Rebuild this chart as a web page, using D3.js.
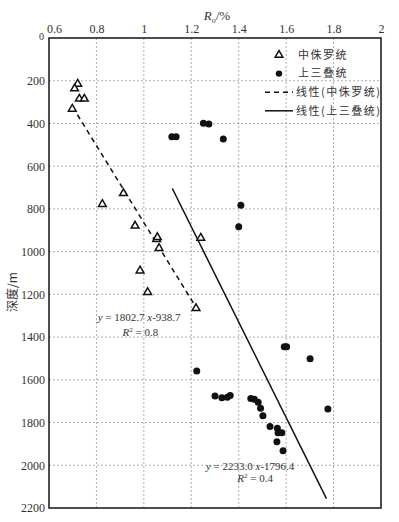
<!DOCTYPE html>
<html>
<head>
<meta charset="utf-8">
<script src="https://cdn.jsdelivr.net/npm/d3@7"></script>
<style>
  body { margin: 0; background: #fff; }
  svg { display: block; }
  text { font-family: "Liberation Serif", "DejaVu Serif", serif; fill: #333; }
  .cjk { font-family: "Noto Sans CJK SC", sans-serif; }
</style>
</head>
<body>
<div id="chart"></div>
<script>
// 中侏罗统 (triangles): Ro %, depth m
var jurRo    = [0.721, 0.708, 0.728, 0.749, 0.698, 0.914, 0.825, 0.963, 1.054, 1.057, 1.064, 0.984, 1.016, 1.220, 1.240];
var jurDepth = [215,   237,   285,   285,   332,   727,   778,   879,   942,   933,   984,   1089,  1190,  1265,  936];

// 上三叠统 (dots)
var triRo    = [1.118, 1.136, 1.251, 1.274, 1.335, 1.409, 1.400, 1.223, 1.592, 1.602, 1.701, 1.776,
                1.300, 1.329, 1.352, 1.364, 1.451, 1.466, 1.482, 1.492, 1.502, 1.532, 1.563, 1.566, 1.582, 1.561, 1.587];
var triDepth = [462,   462,   399,   403,   473,   783,   883,   1559,  1445,  1445,  1501,  1737,
                1676,  1684,  1682,  1673,  1688,  1691,  1705,  1733,  1768,  1819,  1827,  1848,  1848,  1890,  1932];

// linear fits
var jurFit = {slope: 1802.7, icpt: -938.7, from: 0.72, to: 1.23};
var triFit = {slope: 2233.0, icpt: -1796.4, from: 1.12, to: 1.77};

var xTicks = [0.6, 0.8, 1, 1.2, 1.4, 1.6, 1.8, 2];
var yTicks = [0, 200, 400, 600, 800, 1000, 1200, 1400, 1600, 1800, 2000, 2200];

var cfg = {
  width: 399, height: 522,
  margin: {top: 38, right: 18, bottom: 14, left: 49}
};
var iw = cfg.width - cfg.margin.left - cfg.margin.right,
    ih = cfg.height - cfg.margin.top - cfg.margin.bottom;

var x = d3.scaleLinear().domain([0.6, 2]).range([0, iw]);
var y = d3.scaleLinear().domain([0, 2200]).range([0, ih]);

var svg = d3.select("#chart").append("svg")
    .attr("width", cfg.width)
    .attr("height", cfg.height);

var g = svg.append("g")
    .attr("transform", "translate(" + cfg.margin.left + "," + cfg.margin.top + ")");

// grid
g.append("g").selectAll("line")
    .data(xTicks.slice(1, -1))
    .enter().append("line")
    .attr("x1", function(d) { return x(d); })
    .attr("x2", function(d) { return x(d); })
    .attr("y1", 0).attr("y2", ih)
    .attr("stroke", "#999").attr("stroke-width", 0.8)
    .attr("stroke-dasharray", "2,2");

g.append("g").selectAll("line")
    .data(yTicks.slice(1, -1))
    .enter().append("line")
    .attr("y1", function(d) { return y(d); })
    .attr("y2", function(d) { return y(d); })
    .attr("x1", 0).attr("x2", iw)
    .attr("stroke", "#999").attr("stroke-width", 0.8)
    .attr("stroke-dasharray", "2,2");

// axes
var xAxis = d3.axisTop(x)
    .tickValues(xTicks)
    .tickSize(0)
    .tickPadding(5)
    .tickFormat(function(d) { return String(d); });

var yAxis = d3.axisLeft(y)
    .tickValues(yTicks)
    .tickSize(0)
    .tickPadding(4)
    .tickFormat(function(d) { return String(d); });

var gx = g.append("g").call(xAxis);
gx.select(".domain").remove();
gx.selectAll("text").style("font-size", "12px").attr("fill", "#333");
// first label sits a little right so it clears the "0" of the depth axis
gx.selectAll(".tick").filter(function(d) { return d === 0.6; })
    .select("text").attr("dx", 5);

var gy = g.append("g").call(yAxis);
gy.select(".domain").remove();
gy.selectAll("text").style("font-size", "12px").attr("fill", "#333");
gy.selectAll(".tick").filter(function(d) { return d === 0; })
    .select("text").attr("dy", "0.1em").attr("dx", -1).style("font-size", "10px");

// frame
g.append("rect")
    .attr("width", iw).attr("height", ih)
    .attr("fill", "none")
    .attr("stroke", "#222").attr("stroke-width", 1.6);

// fit lines
g.append("line")
    .attr("x1", x(jurFit.from)).attr("y1", y(jurFit.slope * jurFit.from + jurFit.icpt))
    .attr("x2", x(jurFit.to)).attr("y2", y(jurFit.slope * jurFit.to + jurFit.icpt))
    .attr("stroke", "#111").attr("stroke-width", 1.5)
    .attr("stroke-dasharray", "5,4");

g.append("line")
    .attr("x1", x(triFit.from)).attr("y1", y(triFit.slope * triFit.from + triFit.icpt))
    .attr("x2", x(triFit.to)).attr("y2", y(triFit.slope * triFit.to + triFit.icpt))
    .attr("stroke", "#111").attr("stroke-width", 1.5);

// points
var tri = d3.symbol().type(d3.symbolTriangle).size(26);

g.append("g").selectAll("path")
    .data(jurRo.map(function(v, i) { return [v, jurDepth[i]]; }))
    .enter().append("path")
    .attr("d", tri)
    .attr("transform", function(d) { return "translate(" + x(d[0]) + "," + y(d[1]) + ")"; })
    .attr("fill", "#fff").attr("stroke", "#111").attr("stroke-width", 1.5);

g.append("g").selectAll("circle")
    .data(triRo.map(function(v, i) { return [v, triDepth[i]]; }))
    .enter().append("circle")
    .attr("cx", function(d) { return x(d[0]); })
    .attr("cy", function(d) { return y(d[1]); })
    .attr("r", 3.5)
    .attr("fill", "#111");

// equations
function eq(px, py, slope, icpt) {
  var t = g.append("text").attr("x", px).attr("y", py)
      .attr("text-anchor", "middle").style("font-size", "11px");
  t.append("tspan").style("font-style", "italic").text("y");
  t.append("tspan").text(" = " + slope + " ");
  t.append("tspan").style("font-style", "italic").text("x");
  t.append("tspan").text("-" + icpt);
}
function r2(px, py, val) {
  var t = g.append("text").attr("x", px).attr("y", py)
      .attr("text-anchor", "middle").style("font-size", "11px");
  t.append("tspan").style("font-style", "italic").text("R");
  t.append("tspan").attr("dy", -4).style("font-size", "7px").text("2");
  t.append("tspan").attr("dy", 4).text(" = " + val);
}
eq(x(0.98), y(1325), "1802.7", "938.7");
r2(x(0.985), y(1395), "0.8");
eq(x(1.448), y(2022), "2233.0", "1796.4");
r2(x(1.469), y(2078), "0.4");

// axis titles
var xt = svg.append("text")
    .attr("x", 217).attr("y", 20)
    .attr("text-anchor", "middle")
    .style("font-size", "13px");
xt.append("tspan").style("font-style", "italic").text("R");
xt.append("tspan").attr("dy", 3).style("font-size", "8px").style("font-style", "italic").text("o");
xt.append("tspan").attr("dy", -3).text("/%");

svg.append("text")
    .attr("class", "cjk")
    .attr("transform", "translate(17,292) rotate(-90)")
    .attr("text-anchor", "middle")
    .style("font-size", "12px")
    .text("深度/m");

// legend
var legendItems = ["中侏罗统", "上三叠统", "线性(中侏罗统)", "线性(上三叠统)"];
var legend = svg.append("g").attr("transform", "translate(265,55)");
var rows = legend.selectAll("g")
    .data(legendItems)
    .enter().append("g")
    .attr("transform", function(d, i) { return "translate(0," + i * 18.6 + ")"; });

rows.append("text")
    .attr("class", "cjk")
    .attr("x", function(d, i) { return i < 2 ? 33 : 31; })
    .attr("dy", "0.35em")
    .style("font-size", "11px")
    .style("letter-spacing", "1.5px")
    .text(function(d) { return d; });

rows.filter(function(d, i) { return i === 0; }).append("path")
    .attr("d", tri).attr("transform", "translate(14,0)")
    .attr("fill", "#fff").attr("stroke", "#111").attr("stroke-width", 1.5);
rows.filter(function(d, i) { return i === 1; }).append("circle")
    .attr("cx", 14).attr("r", 3.2).attr("fill", "#111");
rows.filter(function(d, i) { return i === 2; }).append("line")
    .attr("x1", 0).attr("x2", 28)
    .attr("stroke", "#111").attr("stroke-width", 1.5).attr("stroke-dasharray", "5,4");
rows.filter(function(d, i) { return i === 3; }).append("line")
    .attr("x1", 0).attr("x2", 28)
    .attr("stroke", "#111").attr("stroke-width", 1.5);
</script>
</body>
</html>
